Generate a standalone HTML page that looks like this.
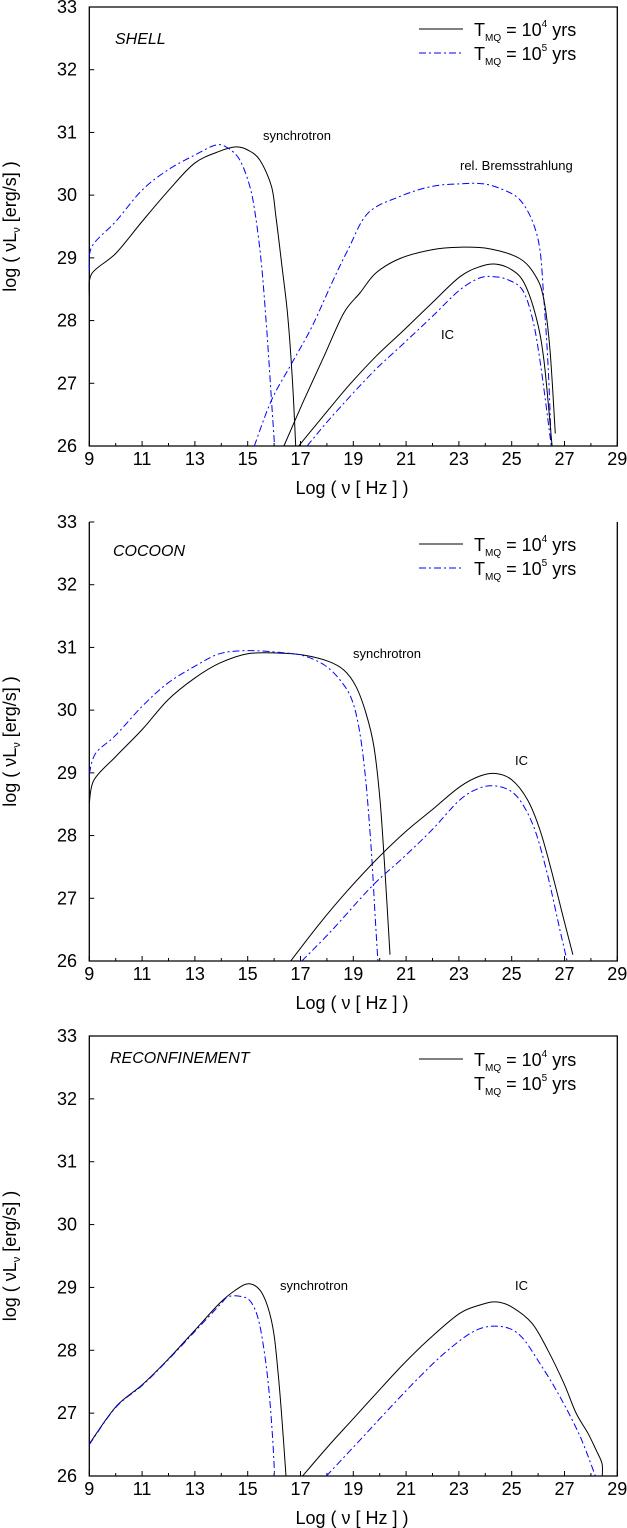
<!DOCTYPE html>
<html><head><meta charset="utf-8"><style>
html,body{margin:0;padding:0;background:#fff;width:627px;height:1528px;overflow:hidden}
svg{display:block}
text{font-family:"Liberation Sans",sans-serif;fill:#000}
</style></head><body>
<svg id="chart" width="627" height="1528" viewBox="0 0 627 1528" xmlns="http://www.w3.org/2000/svg"></svg>
<script>
const xTicks=[9,11,13,15,17,19,21,23,25,27,29];
const yTicks=[26,27,28,29,30,31,32,33];
const panelTitles=["SHELL","COCOON","RECONFINEMENT"];
// panel 1 (shell)
const shellSynBlackX=[9,9.1,10,11,11.97,12.99,13.94,14.55,15,15.46,15.9,16.07,16.3,16.52,16.7,16.82];
const shellSynBlackY=[28.41,28.75,29.07,29.58,30.06,30.51,30.7,30.77,30.72,30.56,30.14,29.66,28.86,28.06,27,26];
const shellSynBlueX=[9,9.1,10,11,11.97,13,13.8,14.25,14.7,15.08,15.3,15.53,15.73,15.9,16.02];
const shellSynBlueY=[28.8,29.18,29.58,30.08,30.4,30.64,30.8,30.75,30.56,30.14,29.66,28.86,27.8,26.73,26];
const shellBremBlueX=[15.25,15.9,16.67,17.43,18.19,18.8,19.55,20.77,21.98,23.04,23.95,24.71,25.3,25.77,26.07,26.22,26.38,26.5];
const shellBremBlueY=[26,26.73,27.32,27.9,28.6,29.13,29.71,29.98,30.14,30.18,30.18,30.08,29.93,29.6,29.13,28.33,27.27,26];
const shellBremBlackX=[16.37,17.13,17.89,18.64,19.25,19.86,20.77,21.98,23.04,24.1,25.3,25.92,26.22,26.45,26.65];
const shellBremBlackY=[26,26.73,27.43,28.12,28.44,28.76,28.99,29.13,29.17,29.15,28.99,28.7,28.33,27.53,26.2];
const shellICBlackX=[16.93,17.73,18.8,19.86,20.92,21.98,23.04,23.8,24.4,25,25.47,25.92,26.22,26.53];
const shellICBlackY=[26,26.41,26.95,27.43,27.85,28.28,28.7,28.86,28.9,28.81,28.6,28.06,27.37,26];
const shellICBlueX=[17.25,18.19,19.7,20.92,21.98,23.04,23.8,24.33,24.86,25.4,25.77,26.07,26.5];
const shellICBlueY=[26,26.47,27.16,27.64,28.06,28.49,28.68,28.7,28.65,28.49,28.06,27.37,26];
// panel 2 (cocoon)
const cocSynBlackX=[9,9.18,10,11,11.97,12.99,13.94,15,16.2,17.1,18.04,18.64,19.1,19.48,19.78,20.01,20.19,20.39];
const cocSynBlackY=[28.52,28.89,29.26,29.69,30.16,30.51,30.75,30.9,30.91,30.88,30.78,30.64,30.38,29.95,29.42,28.57,27.5,26.1];
const cocSynBlueX=[9,9.24,10,11,11.97,13,13.94,15,16.2,17.1,17.9,18.5,18.95,19.25,19.48,19.68,19.83,19.93];
const cocSynBlueY=[28.99,29.31,29.6,30.06,30.43,30.7,30.9,30.95,30.92,30.87,30.72,30.48,30.16,29.63,28.84,27.77,26.7,26];
const cocICBlackX=[16.63,17.73,18.8,19.86,20.92,21.98,23.04,23.8,24.4,25,25.6,26.07,26.5,26.98,27.32];
const cocICBlackY=[26,26.6,27.13,27.61,28.04,28.41,28.78,28.95,28.99,28.89,28.57,28.09,27.45,26.65,26.1];
const cocICBlueX=[17.05,18.19,19.7,20.92,21.98,23.04,23.8,24.4,25,25.47,25.92,26.37,26.83,27.1];
const cocICBlueY=[26,26.49,27.19,27.66,28.09,28.57,28.76,28.79,28.7,28.46,28.04,27.35,26.49,26];
// panel 3 (reconfinement)
const recSynBlackX=[9,10,11,11.97,13,13.94,14.55,15.03,15.46,15.76,15.99,16.14,16.3,16.45];
const recSynBlackY=[26.51,27.1,27.45,27.85,28.32,28.75,28.96,29.06,28.96,28.69,28.27,27.69,26.89,26];
const recSynBlueX=[9,10,11,11.97,13,13.94,14.25,14.7,15.08,15.38,15.6,15.79,15.94,16.02];
const recSynBlueY=[26.5,27.09,27.44,27.84,28.3,28.72,28.85,28.86,28.79,28.53,28.06,27.42,26.63,26];
const recICBlackX=[17.08,18.04,18.95,19.86,20.92,21.98,23.04,23.8,24.4,25,25.77,26.37,26.98,27.44,27.89,28.2,28.42,28.43];
const recICBlackY=[26,26.47,26.89,27.31,27.79,28.22,28.59,28.72,28.77,28.69,28.43,28,27.47,27,26.68,26.41,26.2,26];
const recICBlueX=[17.98,19.25,20.31,21.52,22.58,23.65,24.56,25.31,26.07,26.83,27.59,28.17];
const recICBlueY=[26,26.57,27.05,27.58,28,28.32,28.38,28.24,27.79,27.26,26.63,26];

const NS="http://www.w3.org/2000/svg";
const svg=document.getElementById('chart');
const L=89.3,R=617.3;
const panels=[
 {top:7,bottom:446,topBorder:true,
  series:[[shellSynBlackX,shellSynBlackY,0],[shellSynBlueX,shellSynBlueY,1],[shellBremBlueX,shellBremBlueY,1],[shellBremBlackX,shellBremBlackY,0],[shellICBlackX,shellICBlackY,0],[shellICBlueX,shellICBlueY,1]],
  labels:[["synchrotron",263,140],["rel. Bremsstrahlung",460,170],["IC",441,339]],title:[115,44],leg:[29,53],legLine2:true},
 {top:522,bottom:961,topBorder:false,
  series:[[cocSynBlackX,cocSynBlackY,0],[cocSynBlueX,cocSynBlueY,1],[cocICBlackX,cocICBlackY,0],[cocICBlueX,cocICBlueY,1]],
  labels:[["synchrotron",353,658],["IC",515,765]],title:[113,556],leg:[544,568],legLine2:true},
 {top:1036,bottom:1476,topBorder:true,
  series:[[recSynBlackX,recSynBlackY,0],[recSynBlueX,recSynBlueY,1],[recICBlackX,recICBlackY,0],[recICBlueX,recICBlueY,1]],
  labels:[["synchrotron",280,1290],["IC",515,1290]],title:[110,1063],leg:[1059,1083],legLine2:false}
];
function mk(tag,attrs,parent){const e=document.createElementNS(NS,tag);for(const k in attrs)e.setAttribute(k,attrs[k]);(parent||svg).appendChild(e);return e;}
function txt(s,x,y,size,parent,extra){const t=mk('text',Object.assign({x:x,y:y,'font-size':size},extra||{}),parent);t.textContent=s;return t;}
function smooth(P){
  let d='M'+P[0][0].toFixed(1)+','+P[0][1].toFixed(1);
  for(let i=0;i<P.length-1;i++){
    const p0=P[i-1]||P[i],p1=P[i],p2=P[i+1],p3=P[i+2]||P[i+1];
    const c1=[p1[0]+(p2[0]-p0[0])/6,p1[1]+(p2[1]-p0[1])/6];
    const c2=[p2[0]-(p3[0]-p1[0])/6,p2[1]-(p3[1]-p1[1])/6];
    d+=` C${c1[0].toFixed(1)},${c1[1].toFixed(1)} ${c2[0].toFixed(1)},${c2[1].toFixed(1)} ${p2[0].toFixed(1)},${p2[1].toFixed(1)}`;
  }
  return d;
}
panels.forEach((p,pi)=>{
  const g=mk('g',{});
  
  
  const sx=v=>L+(v-9)*(R-L)/20;
  const sy=v=>p.bottom-(v-26)*(p.bottom-p.top)/7;
  const ax=mk('path',{d:(p.topBorder?`M${L},${p.bottom} L${L},${p.top} L${R},${p.top} L${R},${p.bottom} Z`:`M${L},${p.top} L${L},${p.bottom} L${R},${p.bottom} L${R},${p.top}`),fill:'none',stroke:'#000','stroke-width':1.3},g);
  
  
  for(let v=9;v<=29;v++){const X=sx(v);mk('line',{x1:X,x2:X,y1:p.bottom,y2:p.bottom-(v%2?5:3),stroke:'#000','stroke-width':1},g);}
  xTicks.forEach(v=>{const t=txt(String(v),sx(v),p.bottom+19,18,g,{'text-anchor':'middle'});
    
    });
  yTicks.forEach(v=>{const Y=sy(v);mk('line',{x1:L,x2:L+5,y1:Y,y2:Y,stroke:'#000','stroke-width':1},g);
    const t=txt(String(v),77,Y+6,18,g,{'text-anchor':'end'});
    
    });
  const xt=txt('Log ( ν [ Hz ] )',352,p.bottom+48,18,g,{'text-anchor':'middle'});
  
  
  const cy=(p.top+p.bottom)/2;
  const yt=txt('',0,0,18,g,{'text-anchor':'middle',transform:`translate(16,${cy}) rotate(-90)`});
  yt.innerHTML='log ( νL<tspan font-size="11" dy="4">ν</tspan><tspan dy="-4"> [erg/s] )</tspan>';
  
  
  const ti=txt(panelTitles[pi],p.title[0],p.title[1],16,g,{'font-style':'italic'});
  
  
  p.series.forEach(s=>{const P=s[0].map((x,i)=>[sx(x),sy(s[1][i])]);
    const pl=mk('path',{d:smooth(P),fill:'none',stroke:s[2]?'#0000ff':'#000','stroke-width':1,'stroke-dasharray':s[2]?'7,3,2,3':'none','stroke-linejoin':'round'},g);
    
    });
  p.labels.forEach(l=>{const t=txt(l[0],l[1],l[2],13,g,{fill:'#222'});
    
    });
  const lg=mk('g',{},g);
  
  
  mk('line',{x1:419,x2:463,y1:p.leg[0],y2:p.leg[0],stroke:'#000','stroke-width':1},lg);
  if(p.legLine2) mk('line',{x1:419,x2:463,y1:p.leg[1],y2:p.leg[1],stroke:'#0000ff','stroke-width':1,'stroke-dasharray':'7,3,2,3'},lg);
  [4,5].forEach((e,i)=>{const t=txt('',474,p.leg[i]+7,18,lg);
    t.innerHTML='T<tspan font-size="10" dy="5">MQ</tspan><tspan dy="-5"> = 10</tspan><tspan font-size="10" dy="-9">'+e+'</tspan><tspan dy="9"> yrs</tspan>';
    
    });
});
</script>
</body></html>
